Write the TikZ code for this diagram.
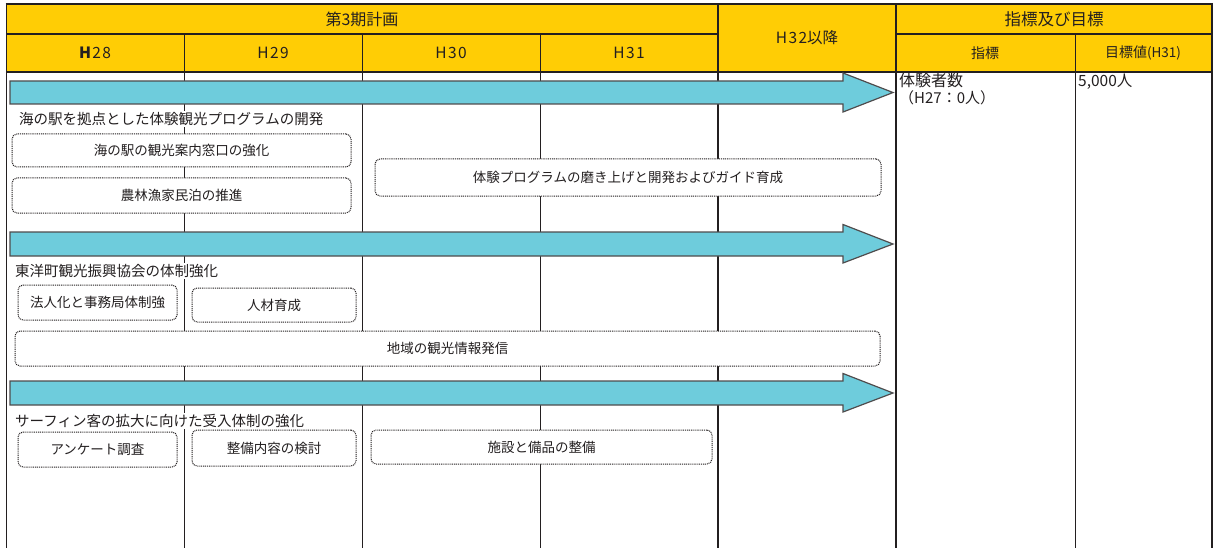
\documentclass[tikz,border=0pt]{standalone}
\usepackage{fontspec}
\setmainfont{Noto Sans CJK JP}
\definecolor{hdr}{HTML}{FFCD05}
\definecolor{arr}{HTML}{6ECCDC}
\definecolor{ink}{HTML}{231F20}
\newcommand{\wide}{\addfontfeature{LetterSpace=9}}
\tikzset{
  grid/.style={draw=ink,line width=1pt},
  gridthick/.style={draw=ink,line width=1.8pt},
  plan/.style={draw=ink,line width=1pt,dash pattern=on 1pt off 0.9pt,rounded corners=5pt,fill=white,
    font=\fontsize{13.5}{15}\selectfont,text=ink},
  lab/.style={anchor=west,fill=white,inner sep=1pt,font=\fontsize{14.5}{16}\selectfont,text=ink},
  hd/.style={font=\fontsize{15.5}{17}\selectfont,text=ink},
  bigarrow/.style={fill=arr,draw=ink!80,line width=1.2pt,line join=miter},
}
\begin{document}
\begin{tikzpicture}[x=1pt,y=-1pt]
\useasboundingbox (0,0) rectangle (1214,548);
% header background
\fill[hdr] (6,4) rectangle (1212,72);
% header lines
\draw[grid,line width=1.3pt] (6,34) -- (718,34);
\draw[grid,line width=1.3pt] (896,34) -- (1212,34);
\draw[grid,line width=1.2pt] (6,72) -- (1212,72);
% verticals
\draw[grid] (184,34) -- (184,548);
\draw[grid] (362,34) -- (362,548);
\draw[grid] (540,34) -- (540,548);
\draw[gridthick] (718,4) -- (718,548);
\draw[gridthick] (896,4) -- (896,548);
\draw[grid] (1075,34) -- (1075,548);
% outer border
\draw[grid] (6.5,4) -- (6.5,548);
\draw[draw=ink,line width=2.5pt] (1212,3) -- (1212,548);
\draw[draw=ink,line width=2.2pt] (5.5,4) -- (1213,4);
% header texts
\node[hd,font=\fontsize{16}{18}\selectfont] (plan3) at (362,19) {第3期計画};
\node[hd] (h28) at (95,53) {\wide\textbf{H}28};
\node[hd] (h29) at (273,53) {\wide H29};
\node[hd] (h30) at (451,53) {\wide H30};
\node[hd] (h31) at (629,53) {\wide H31};
\node[hd] (h32) at (807,38) {{\wide H32}以降};
\node[hd,font=\fontsize{16.5}{18}\selectfont] (goalhd) at (1054,19) {指標及び目標};
\node[hd,font=\fontsize{14}{16}\selectfont] (idx) at (985,53) {指標};
\node[hd,font=\fontsize{14}{16}\selectfont] (target) at (1143,53) {目標値{\fontsize{13.5}{15}\selectfont (H31)}};
% right column contents
\node[anchor=north west,inner sep=0pt,text=ink,font=\fontsize{16}{18}\selectfont,align=left] (ind1) at (899,73) {体験者数\\[-1pt]{\fontsize{15}{16}\selectfont （H27：0人）}};
\node[anchor=north west,inner sep=0pt,text=ink,font=\fontsize{15.5}{17}\selectfont] (val1) at (1078,73.5) {5,000人};
% arrows
\draw[bigarrow] (10,81) -- (843,81) -- (843,73) -- (893,92.5) -- (843,112) -- (843,104) -- (10,104) -- cycle;
\draw[bigarrow] (10,232) -- (843,232) -- (843,224.5) -- (893,244) -- (843,263) -- (843,256) -- (10,256) -- cycle;
\draw[bigarrow] (10,381) -- (843,381) -- (843,373.5) -- (893,393) -- (843,412) -- (843,405) -- (10,405) -- cycle;
% group 1
\node[lab] (g1) at (18,119) {海の駅を拠点とした体験観光プログラムの開発};
\node[plan,minimum width=339pt,minimum height=33pt] (b11) at (181.5,150.5) {海の駅の観光案内窓口の強化};
\node[plan,minimum width=339pt,minimum height=35pt] (b12) at (181.5,195.5) {農林漁家民泊の推進};
\node[plan,minimum width=506pt,minimum height=37pt] (b13) at (628,177.5) {体験プログラムの磨き上げと開発およびガイド育成};
% group 2
\node[lab] (g2) at (14,271) {東洋町観光振興協会の体制強化};
\node[plan,minimum width=159pt,minimum height=35pt] (b21) at (97.5,302.5) {法人化と事務局体制強};
\node[plan,minimum width=164pt,minimum height=34pt] (b22) at (274,305) {人材育成};
\node[plan,minimum width=865pt,minimum height=35pt] (b23) at (447.5,348.5) {地域の観光情報発信};
% group 3
\node[lab] (g3) at (14,421) {サーフィン客の拡大に向けた受入体制の強化};
\node[plan,minimum width=159pt,minimum height=35pt] (b31) at (97.5,449.5) {アンケート調査};
\node[plan,minimum width=164pt,minimum height=36pt] (b32) at (274,448) {整備内容の検討};
\node[plan,minimum width=341pt,minimum height=34pt] (b33) at (541.5,447) {施設と備品の整備};
\end{tikzpicture}
\end{document}
